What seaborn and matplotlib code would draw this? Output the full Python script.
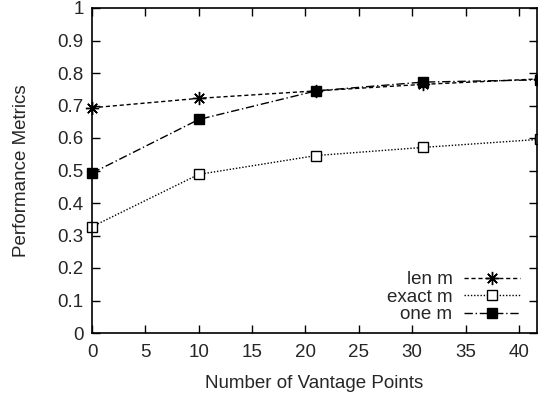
import numpy as np
import pandas as pd
import matplotlib
matplotlib.use("Agg")
import matplotlib.pyplot as plt
import seaborn as sns

# valores
vantage_points = [0, 10, 21, 31, 42]
len_m = [0.693, 0.722, 0.745, 0.765, 0.782]
exact_m = [0.327, 0.488, 0.546, 0.571, 0.596]
one_m = [0.492, 0.657, 0.745, 0.772, 0.779]

series = ["len m", "exact m", "one m"]
x_ticks = [0, 5, 10, 15, 20, 25, 30, 35, 40]
y_ticks = [0, 0.1, 0.2, 0.3, 0.4, 0.5, 0.6, 0.7, 0.8, 0.9, 1]
y_tick_labels = ["0", "0.1", "0.2", "0.3", "0.4", "0.5", "0.6", "0.7", "0.8", "0.9", "1"]

sns.set_style("ticks")
plt.rcParams["font.family"] = ["Liberation Sans", "DejaVu Sans"]
plt.rcParams["font.size"] = 13.5

df = pd.DataFrame({
    "x": vantage_points * 3,
    "y": len_m + exact_m + one_m,
    "serie": [s for s in series for _ in vantage_points],
})

estilos = {
    "len m": dict(linestyle=(0, (3, 2)), marker=(8, 2, 0), markersize=9.5,
                  markerfacecolor="black", markeredgewidth=1.0),
    "exact m": dict(linestyle=(0, (1, 1.3)), marker="s", markersize=7.5,
                    markerfacecolor="white", markeredgewidth=1.0),
    "one m": dict(linestyle=(0, (6, 2, 1, 2)), marker="s", markersize=7.5,
                  markerfacecolor="black", markeredgewidth=1.0),
}

fig = plt.figure(figsize=(5.38, 3.94), dpi=100)
ax = fig.add_axes([92 / 538, 1 - 333 / 394, 445 / 538, 325 / 394])

for s in series:
    sub = df[df["serie"] == s]
    sns.lineplot(data=sub, x="x", y="y", ax=ax, color="black", linewidth=1.0,
                 markeredgecolor="black", label=s, clip_on=False, **estilos[s])

ax.set_xlim(0, 41.7)
ax.set_ylim(0, 1)
ax.set_xticks(x_ticks)
ax.set_yticks(y_ticks)
ax.set_yticklabels(y_tick_labels)
ax.tick_params(direction="in", length=6, width=1, top=True, right=True,
               labelsize=13.5, color="black")
ax.tick_params(axis="x", pad=8)
ax.tick_params(axis="y", pad=6)
for sp in ax.spines.values():
    sp.set_visible(True)
    sp.set_linewidth(1.2)
    sp.set_color("black")

ax.set_xlabel("Number of Vantage Points", fontsize=13.5, labelpad=10)
ax.set_ylabel("Performance Metrics", fontsize=13.5, labelpad=20)

ax.legend(loc="lower right", markerfirst=False, frameon=False, fontsize=13.5,
          handlelength=3, numpoints=1, labelspacing=0.02, handletextpad=0.6,
          borderaxespad=0.0, borderpad=0.0, bbox_to_anchor=(0.962, 0.03))

fig.savefig("out.png", dpi=100)
plt.close()
